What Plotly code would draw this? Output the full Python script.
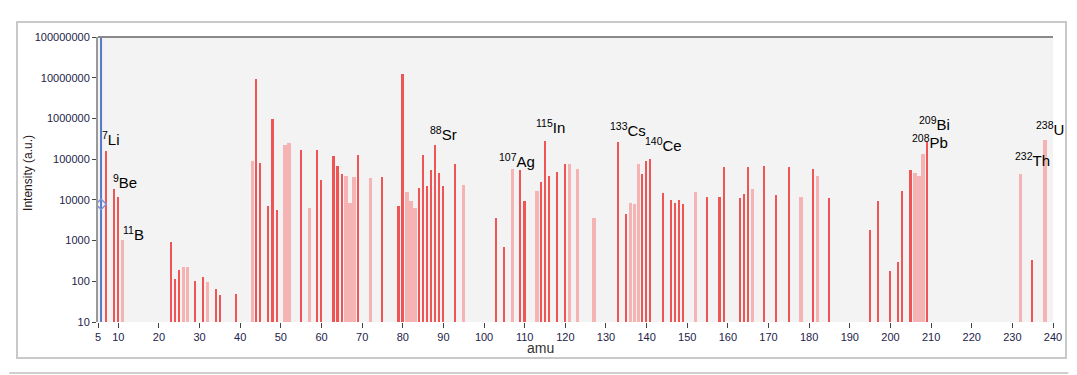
import plotly.graph_objects as go

# ---- data ----
red_mass = [7, 9, 10, 23, 24, 25, 29, 31, 34, 35, 39, 44, 45, 47, 48, 49, 55, 59, 60,
            63, 64, 65, 69, 75, 79, 80, 84, 85, 86, 87, 88, 89, 90, 93, 103, 105, 109,
            110, 114, 115, 116, 118, 120, 133, 135, 139, 140, 141, 144, 146, 147, 148,
            149, 155, 158, 159, 163, 164, 165, 169, 172, 175, 181, 185, 195, 197, 200,
            202, 203, 205, 209, 235]
red_int = [1.6e5, 1.8e4, 1.2e4, 900, 117, 185, 104, 130, 63, 45, 50, 9.1e6, 8.1e4, 7000,
           9.5e5, 5600, 1.66e5, 1.66e5, 3.1e4, 1.18e5, 6.9e4, 4.3e4, 1.3e5, 3.6e4, 7000,
           1.26e7, 2.0e4, 1.24e5, 2.2e4, 5.4e4, 2.2e5, 4.6e4, 2.2e4, 7.4e4, 3550, 690,
           5.3e4, 9300, 2.8e4, 2.8e5, 3.8e4, 4.8e4, 7.6e4, 2.6e5, 4600, 4.3e4, 9.1e4,
           9.9e4, 1.48e4, 9800, 8500, 9800, 7900, 1.15e4, 1.2e4, 6.5e4, 1.1e4, 1.4e4,
           6.5e4, 6.9e4, 1.3e4, 6.5e4, 5.8e4, 1.1e4, 1860, 9300, 180, 300, 1.66e4,
           5.4e4, 2.6e5, 340]

pale_mass = [11, 26, 27, 32, 43, 51, 52, 57, 66, 67, 68, 72, 81, 82, 83, 95, 107, 113,
             121, 123, 127, 136, 137, 138, 152, 166, 178, 182, 206, 207, 208, 232, 238]
pale_int = [1050, 224, 224, 97, 8.9e4, 2.2e5, 2.5e5, 6400, 3.8e4, 8500, 3.6e4, 3.4e4,
            1.6e4, 9300, 6400, 2.3e4, 5.8e4, 1.66e4, 7.4e4, 5.8e4, 3500, 8500, 7800,
            7.6e4, 1.6e4, 1.8e4, 1.2e4, 3.8e4, 4.6e4, 3.9e4, 1.35e5, 4.3e4, 3.0e5]

label_text = ["<sup>7</sup>Li", "<sup>9</sup>Be", "<sup>11</sup>B", "<sup>88</sup>Sr",
              "<sup>107</sup>Ag", "<sup>115</sup>In", "<sup>133</sup>Cs", "<sup>140</sup>Ce",
              "<sup>209</sup>Bi", "<sup>208</sup>Pb", "<sup>232</sup>Th", "<sup>238</sup>U"]
label_mass = [5.4, 8.1, 10.6, 86.1, 103.3, 112.4, 130.6, 139.2, 206.5, 204.8, 230.2, 235.3]
label_logy = [5.5, 4.44, 3.17, 5.62, 4.96, 5.80, 5.72, 5.35, 5.87, 5.43, 5.0, 5.75]

cursor_mass = 5.75
cursor_int = 7800

x_ticks = [5, 10, 20, 30, 40, 50, 60, 70, 80, 90, 100, 110, 120, 130, 140, 150, 160,
           170, 180, 190, 200, 210, 220, 230, 240]
y_ticks = [10, 100, 1000, 10000, 100000, 1000000, 10000000, 100000000]
y_tick_text = ["10", "100", "1000", "10000", "100000", "1000000", "10000000", "100000000"]

TICKFONT = dict(family="Liberation Sans, Arial", size=11, color="#23234a")

fig = go.Figure()
fig.add_trace(go.Bar(x=pale_mass, y=pale_int, width=0.85,
                     marker=dict(color="#f5b3b3", line=dict(width=0)), showlegend=False))
fig.add_trace(go.Bar(x=red_mass, y=red_int, width=0.4,
                     marker=dict(color="#ef5555", line=dict(width=0)), showlegend=False))
fig.add_trace(go.Scatter(x=[cursor_mass, cursor_mass], y=[10, 1e8], mode="lines",
                         line=dict(color="#5577cc", width=2), showlegend=False,
                         hoverinfo="skip"))
fig.add_trace(go.Scatter(x=[cursor_mass], y=[cursor_int], mode="markers",
                         marker=dict(symbol="diamond-open", size=8, color="#7d95d8",
                                     line=dict(width=1.5)), showlegend=False))

for t, mx, ly in zip(label_text, label_mass, label_logy):
    fig.add_annotation(x=mx, y=ly, xref="x", yref="y", text=t, showarrow=False,
                       xanchor="left", yanchor="middle",
                       font=dict(family="Liberation Sans, Arial", size=15, color="#000000"))

fig.add_annotation(x=0.463, y=-0.092, xref="paper", yref="paper", text="amu",
                   showarrow=False, xanchor="center", yanchor="middle",
                   font=dict(family="Liberation Sans, Arial", size=14, color="#333333"))
fig.add_annotation(x=-0.0733, y=0.523, xref="paper", yref="paper", text="Intensity (a.u.)",
                   showarrow=False, textangle=-90, xanchor="center", yanchor="middle",
                   font=dict(family="Liberation Sans, Arial", size=12, color="#2a1a1a"))

# frame shapes
fig.add_shape(type="rect", xref="paper", yref="paper", x0=-0.0848, x1=1.0136,
              y0=-0.1263, y1=1.0526, line=dict(color="#c9c9c9", width=2), layer="below")
fig.add_shape(type="line", xref="paper", yref="paper", x0=-0.093, x1=1.016,
              y0=-0.179, y1=-0.179, line=dict(color="#cfcfcf", width=2))
fig.add_shape(type="line", xref="paper", yref="paper", x0=0, x1=1, y0=1, y1=1,
              line=dict(color="#8a8a8a", width=2))

# the page body adds an 8px offset, so the figure is 8px smaller with margins shifted
fig.update_layout(
    width=1069, height=367,
    margin=dict(l=90, r=24, t=29, b=53, autoexpand=False),
    paper_bgcolor="white", plot_bgcolor="#f3f3f3",
    bargap=0, barmode="overlay",
    xaxis=dict(range=[5, 240], tickvals=x_ticks, ticks="outside", ticklen=5,
               tickcolor="#444444", tickwidth=1, showgrid=False, zeroline=False,
               showline=False, tickfont=TICKFONT, automargin=False),
    yaxis=dict(type="log", range=[1, 8], tickvals=y_ticks, ticktext=y_tick_text,
               ticks="outside", ticklen=4, tickcolor="#444444", showgrid=False,
               zeroline=False, showline=True, linecolor="#9a9a9a", linewidth=2,
               tickfont=TICKFONT, automargin=False),
)

fig.write_html("out.html")
